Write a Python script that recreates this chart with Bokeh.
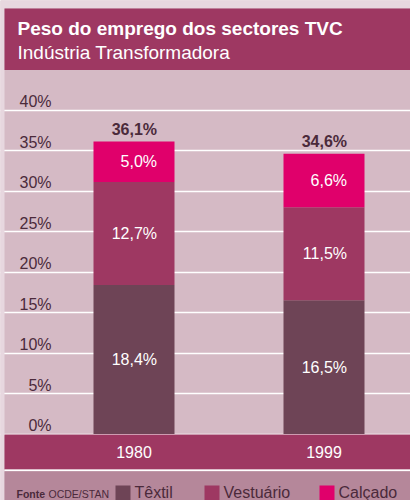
import numpy as np
from bokeh.plotting import figure
from bokeh.models import ColumnDataSource, Range1d, Grid, FixedTicker
from bokeh.core.properties import value
from bokeh.embed import file_html
from bokeh.resources import INLINE

# ---- data ----
years = ["1980", "1999"]
textil = [18.4, 16.5]
vestuario = [12.7, 11.5]
calcado = [5.0, 6.6]
totals = [36.1, 34.6]
y_ticks = [0, 5, 10, 15, 20, 25, 30, 35, 40]
series_keys = ["textil", "vestuario", "calcado"]
series_names = ["Têxtil", "Vestuário", "Calçado"]
title_text = "Peso do emprego dos sectores TVC"
subtitle_text = "Indústria Transformadora"
source_bold = "Fonte"
source_text = "OCDE/STAN"

# ---- style ----
C_TEXTIL = "#6e4456"
C_VEST = "#9e3862"
C_CALC = "#e0006b"
C_BAND = "#9e3862"
C_PLOT = "#d5bac5"
C_OUTER = "#e7d7df"
C_LEG = "#b5879a"
C_DARK = "#4b2a3b"
series_colors = [C_TEXTIL, C_VEST, C_CALC]
FONT = "'Liberation Sans', Arial, sans-serif"

# page-pixel helpers (figure sits at page (0, 0))
X0, DX = 133.5, 190.0   # bar-index 0 centre, pixels per category
Y0, DY = 433.5, 8.1     # zero line, pixels per percent
def px(x):
    return (x - X0) / DX
def py(y):
    return (Y0 - y) / DY

W, H = 410, 500
p = figure(width=W, height=H, output_backend="svg", toolbar_location=None,
           x_range=Range1d(px(0), px(W)), y_range=Range1d(py(H), py(0)),
           x_axis_type=None, y_axis_type=None,
           min_border=0, min_border_left=0, min_border_right=0,
           min_border_top=0, min_border_bottom=0,
           outline_line_color=None,
           background_fill_color=C_PLOT, border_fill_color=C_PLOT)

p.add_layout(Grid(dimension=1, ticker=FixedTicker(ticks=y_ticks),
                  grid_line_color="white", grid_line_width=1.5))

# frame strips and bands
p.quad(left=px(0), right=px(W), top=py(0), bottom=py(8), color=C_OUTER, line_color=None)
p.quad(left=px(0), right=px(4), top=py(0), bottom=py(H), color=C_OUTER, line_color=None)
p.quad(left=px(4), right=px(W), top=py(8), bottom=py(69.5), color=C_BAND, line_color=None)
p.quad(left=px(4), right=px(W), top=py(434), bottom=py(469), color=C_BAND, line_color=None)
p.quad(left=px(4), right=px(W), top=py(469), bottom=py(470.7), color="white", line_color=None)
p.quad(left=px(4), right=px(W), top=py(470.7), bottom=py(H), color=C_LEG, line_color=None)

# bars
xs = list(range(len(years)))
src = ColumnDataSource(dict(x=xs, textil=textil, vestuario=vestuario, calcado=calcado))
p.vbar_stack(series_keys, x="x", width=81 / DX, color=series_colors,
             line_color=None, source=src)

# y tick labels
p.text(x=[px(51)] * len(y_ticks), y=y_ticks, text=[f"{t}%" for t in y_ticks],
       text_align="right", text_baseline="alphabetic", y_offset=-8.5,
       text_font=value(FONT), text_font_size="16px", text_color=C_DARK)

# segment labels
stack = np.array([textil, vestuario, calcado])
tops = np.cumsum(stack, axis=0)
bottoms = tops - stack
seg_x, seg_y, seg_t = [], [], []
for s in range(stack.shape[0]):
    for i in xs:
        seg_x.append(i)
        seg_y.append((tops[s, i] + bottoms[s, i]) / 2)
        seg_t.append(f"{stack[s, i]:.1f}%".replace(".", ","))
p.text(x=seg_x, y=seg_y, text=seg_t, text_align="right", text_baseline="middle",
       x_offset=23, text_font=value(FONT), text_font_size="16px", text_color="white")

# totals
p.text(x=xs, y=totals, text=[f"{t:.1f}%".replace(".", ",") for t in totals],
       text_align="right", text_baseline="alphabetic", x_offset=23, y_offset=-12,
       text_font=value(FONT), text_font_size="16px", text_font_style="bold",
       text_color=C_DARK)

# category labels
p.text(x=xs, y=[py(451)] * len(xs), text=years, text_align="center",
       text_baseline="middle", text_font=value(FONT), text_font_size="16px",
       text_color="white")

# title
p.text(x=[px(17)], y=[py(28)], text=[title_text], text_baseline="alphabetic",
       text_font=value(FONT), text_font_size="19px", text_font_style="bold",
       text_color="white")
p.text(x=[px(17)], y=[py(51.5)], text=[subtitle_text], text_baseline="alphabetic",
       text_font=value(FONT), text_font_size="19px", text_color="white")

# source + legend
p.text(x=[px(16)], y=[py(493.5)], text=[source_bold], text_baseline="alphabetic",
       text_font=value(FONT), text_font_size="10.5px", text_font_style="bold",
       text_color=C_DARK)
p.text(x=[px(48)], y=[py(493.5)], text=[source_text], text_baseline="alphabetic",
       text_font=value(FONT), text_font_size="10.5px", text_color=C_DARK)
leg_sq = [115, 204, 319]
p.quad(left=[px(v) for v in leg_sq], right=[px(v + 15) for v in leg_sq],
       top=[py(485)] * 3, bottom=[py(H)] * 3, color=series_colors, line_color=None)
p.text(x=[px(v + 19) for v in leg_sq], y=[py(492)] * 3, text=series_names,
       text_baseline="alphabetic", text_font=value(FONT), text_font_size="16px",
       text_color=C_DARK)

open("out.html", "w").write(file_html(p, INLINE))
